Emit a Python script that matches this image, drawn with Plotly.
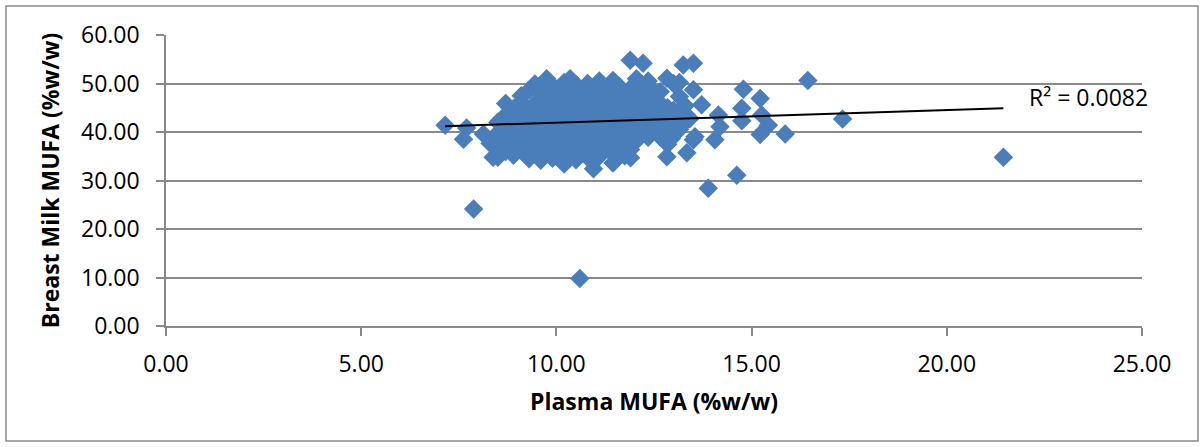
import plotly.graph_objects as go

# Plasma MUFA (%w/w) and Breast Milk MUFA (%w/w)
plasma_mufa = [
    7.15, 7.62, 7.70, 7.88, 8.13, 8.30, 8.38,
    8.50, 8.50, 8.50, 8.50,
    8.70, 8.70, 8.70, 8.70, 8.70,
    8.90, 8.90, 8.90, 8.90, 8.90,
    9.10, 9.10, 9.10, 9.10, 9.10, 9.10,
    9.30, 9.30, 9.30, 9.30, 9.30, 9.30,
    9.45, 9.45, 9.45, 9.45, 9.45, 9.45,
    9.60, 9.60, 9.60, 9.60, 9.60, 9.60, 9.60,
    9.75, 9.75, 9.75, 9.75, 9.75, 9.75,
    9.90, 9.90, 9.90, 9.90, 9.90, 9.90, 9.90,
    10.05, 10.05, 10.05, 10.05, 10.05, 10.05,
    10.20, 10.20, 10.20, 10.20, 10.20, 10.20, 10.20,
    10.35, 10.35, 10.35, 10.35, 10.35, 10.35, 10.35,
    10.50, 10.50, 10.50, 10.50, 10.50, 10.50, 10.50,
    10.65, 10.65, 10.65, 10.65, 10.65, 10.65,
    10.80, 10.80, 10.80, 10.80, 10.80, 10.80, 10.80,
    10.95, 10.95, 10.95, 10.95, 10.95, 10.95, 10.95,
    11.10, 11.10, 11.10, 11.10, 11.10, 11.10, 11.10,
    11.25, 11.25, 11.25, 11.25, 11.25, 11.25,
    11.45, 11.45, 11.45, 11.45, 11.45, 11.45, 11.45, 11.45,
    11.60, 11.60, 11.60, 11.60, 11.60, 11.60,
    11.75, 11.75, 11.75, 11.75, 11.75, 11.75,
    11.90, 11.90, 11.90, 11.90, 11.90, 11.90, 11.90, 11.89,
    12.05, 12.05, 12.05, 12.05, 12.05, 12.05,
    12.20, 12.20, 12.20, 12.20, 12.20, 12.22,
    12.35, 12.35, 12.35, 12.35, 12.35,
    12.50, 12.50, 12.50, 12.50,
    12.65, 12.65, 12.65, 12.65, 12.66,
    12.83, 12.85, 12.85, 12.85, 12.85, 12.83,
    12.95, 13.00, 13.00, 13.00,
    13.15, 13.15, 13.15, 13.15,
    13.34, 13.30, 13.30, 13.25,
    13.42, 13.51, 13.55, 13.51, 13.51, 13.72,
    13.89, 14.06, 14.15, 14.19, 14.62, 14.75, 14.75, 14.79,
    15.22, 15.22, 15.26, 15.43, 15.86, 16.44, 17.33, 21.45,
    10.60,
]
breast_milk_mufa = [
    41.4, 38.5, 40.8, 24.1, 39.6, 37.7, 34.8,
    34.8, 37.5, 39.8, 42.0,
    45.9, 43.5, 41.0, 38.5, 36.0,
    35.2, 37.8, 40.2, 42.6, 44.8,
    36.4, 38.9, 41.5, 43.9, 46.2, 47.5,
    34.5, 37.0, 39.6, 42.2, 44.6, 48.6,
    35.8, 38.3, 40.9, 43.3, 45.8, 49.9,
    34.2, 36.7, 39.2, 41.8, 44.2, 46.9, 48.3,
    35.5, 38.0, 40.5, 43.0, 45.5, 51.0,
    34.6, 37.1, 39.7, 42.3, 44.9, 47.4, 49.6,
    35.9, 38.4, 41.0, 43.6, 46.1, 48.6,
    33.4, 36.6, 39.2, 41.7, 44.3, 46.9, 50.2,
    35.2, 37.8, 40.4, 42.9, 45.5, 48.0, 51.0,
    34.3, 36.9, 39.5, 42.1, 44.7, 47.2, 49.8,
    35.8, 38.3, 40.9, 43.4, 46.0, 48.5,
    34.8, 37.3, 39.9, 42.5, 45.1, 47.6, 50.0,
    32.4, 36.2, 38.8, 41.3, 43.9, 46.4, 49.0,
    35.0, 37.6, 40.1, 42.7, 45.3, 47.8, 50.5,
    36.5, 39.0, 41.6, 44.1, 46.7, 49.2,
    33.6, 35.4, 38.0, 40.6, 43.2, 45.7, 48.2, 50.6,
    36.8, 39.4, 41.9, 44.5, 47.0, 49.5,
    35.1, 37.7, 40.3, 42.8, 45.4, 48.0,
    34.7, 36.4, 39.0, 41.6, 44.1, 46.5, 49.0, 54.8,
    38.2, 40.8, 43.3, 45.8, 48.4, 51.0,
    39.6, 42.1, 44.6, 47.2, 49.7, 54.2,
    38.9, 41.4, 43.9, 46.3, 50.5,
    40.2, 42.8, 45.3, 48.3,
    39.0, 41.5, 44.0, 46.0, 48.3,
    34.9, 37.5, 40.4, 42.5, 45.0, 51.1,
    38.7, 41.8, 44.5, 50.0,
    40.5, 43.2, 47.3, 50.2,
    35.7, 42.0, 45.4, 53.8,
    42.8, 38.4, 39.0, 48.7, 54.2, 45.6,
    28.4, 38.4, 43.5, 41.1, 31.1, 44.9, 42.3, 48.8,
    46.9, 39.5, 43.5, 41.4, 39.6, 50.6, 42.7, 34.8,
    9.8,
]

# Linear trendline end points
trend_x = [7.15, 21.45]
trend_y = [41.2, 44.9]
r2_label = "R² = 0.0082"

x_ticks = [0, 5, 10, 15, 20, 25]
y_ticks = [0, 10, 20, 30, 40, 50, 60]

FONT = "Open Sans"
GRID = "#898989"
FS = 23

fig = go.Figure()
fig.add_trace(go.Scatter(
    x=plasma_mufa, y=breast_milk_mufa, mode="markers",
    marker=dict(symbol="diamond", size=15, color="#4A7EBB", line=dict(width=0)),
    showlegend=False, hoverinfo="x+y",
))
fig.add_trace(go.Scatter(
    x=trend_x, y=trend_y, mode="lines",
    line=dict(color="black", width=2), showlegend=False, hoverinfo="skip",
))

fig.add_annotation(
    x=22.05, y=47.2, xref="x", yref="y", text=r2_label, showarrow=False,
    xanchor="left", yanchor="middle", font=dict(family=FONT, size=FS, color="black"),
)

# outer chart border
fig.add_shape(
    type="rect", xref="paper", yref="paper",
    x0=-0.1639, x1=1.0574, y0=-0.3952, y1=1.0997,
    line=dict(color="#8a8a8a", width=1.5), fillcolor="rgba(0,0,0,0)", layer="below",
)

fig.update_layout(
    width=1204, height=447,
    margin=dict(l=166, r=62, t=35, b=121),
    paper_bgcolor="white", plot_bgcolor="white",
    font=dict(family=FONT, size=FS, color="black"),
    xaxis=dict(
        range=[0, 25], tickvals=x_ticks, ticktext=[f"{v:.2f}" for v in x_ticks],
        showgrid=False, zeroline=False, showline=True, linecolor=GRID, linewidth=1.5,
        ticks="outside", ticklen=8, tickcolor=GRID, tickwidth=1.5,
        ticklabelstandoff=9,
        title=dict(text="<b>Plasma MUFA (%w/w)</b>", font=dict(family=FONT, size=FS), standoff=16),
    ),
    yaxis=dict(
        range=[0, 60], tickvals=y_ticks, ticktext=[f"{v:.2f}" for v in y_ticks],
        showgrid=True, gridcolor=GRID, gridwidth=1.5,
        zeroline=False, showline=True, linecolor=GRID, linewidth=1.5,
        ticks="outside", ticklen=8, tickcolor=GRID, tickwidth=1.5,
        ticklabelstandoff=12,
        title=dict(text="<b>Breast Milk MUFA (%w/w)</b>", font=dict(family=FONT, size=FS), standoff=15),
    ),
)

fig.write_html("out.html")
